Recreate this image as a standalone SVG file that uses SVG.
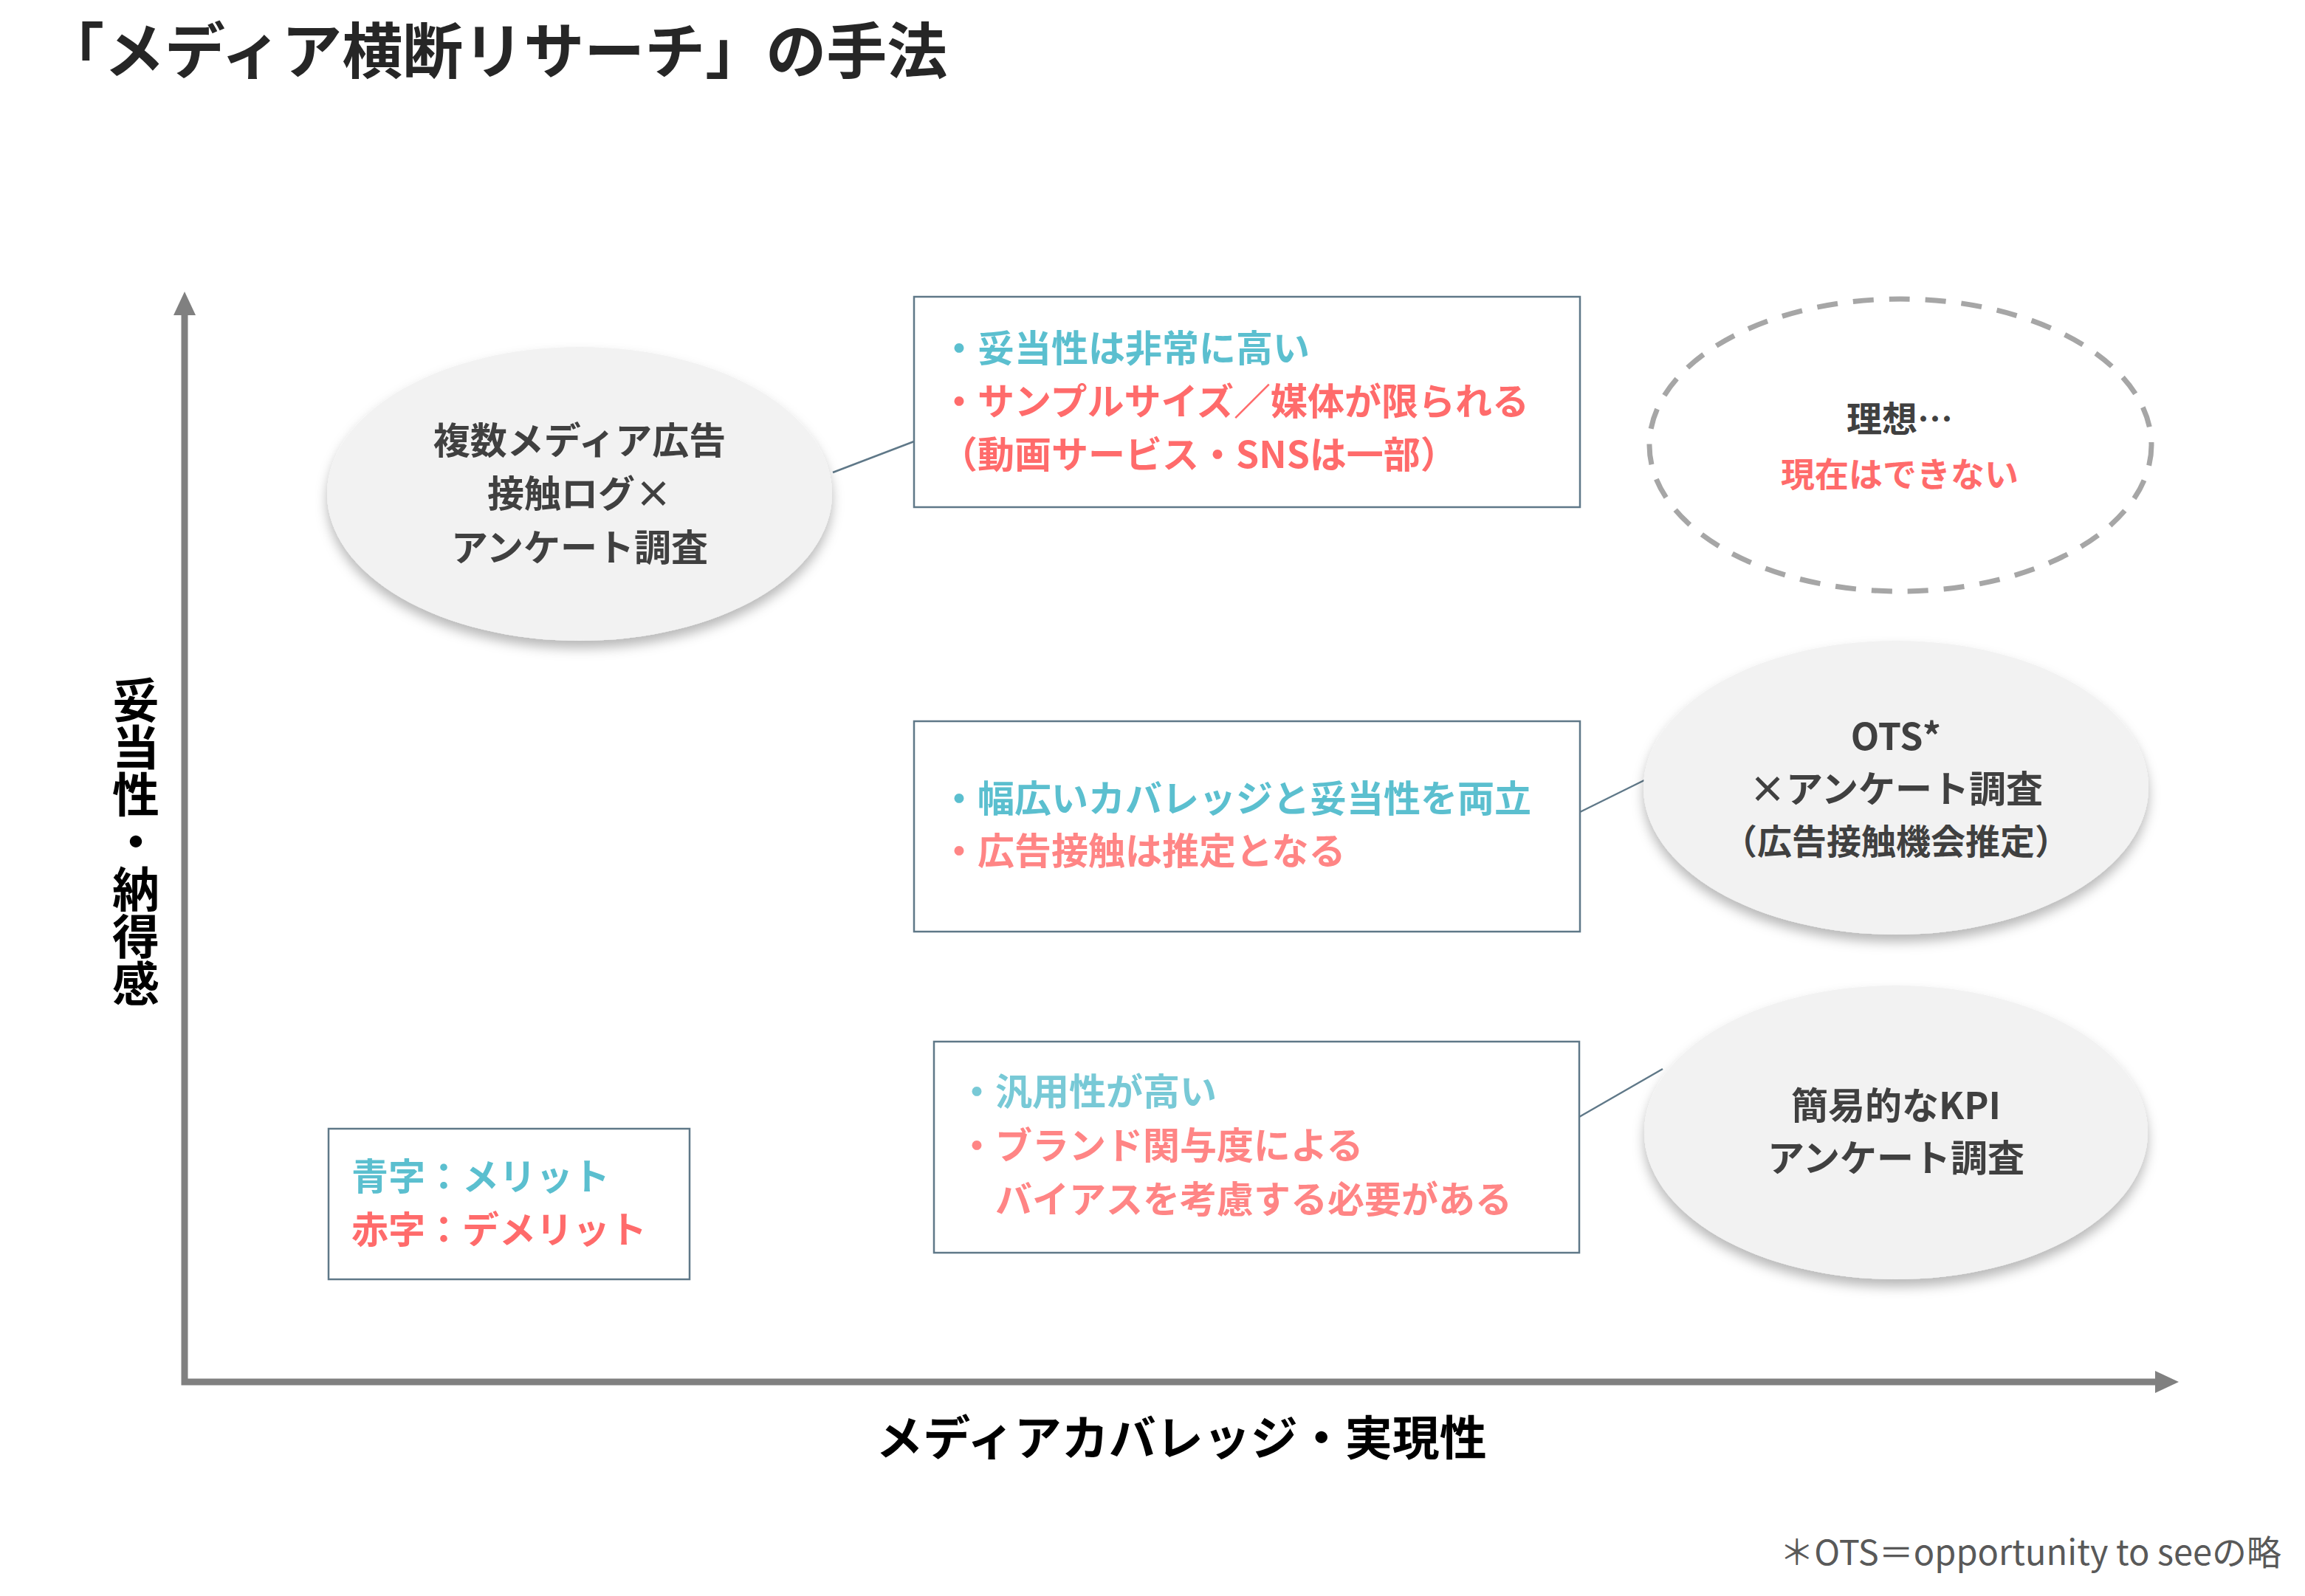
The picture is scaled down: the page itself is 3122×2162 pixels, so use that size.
<svg xmlns="http://www.w3.org/2000/svg" width="3122" height="2162" viewBox="0 0 3122 2162">
<style>
text{font-family:"Noto Sans CJK JP","Noto Sans",sans-serif;font-weight:bold}
.ttl{font-size:82px;fill:#262626}
.ax{font-size:64px;fill:#000}
.nt{font-size:50px;fill:#404040}
.bl{font-size:50px;fill:#5bbfcf}
.bl2{font-size:50px;fill:#78c9d6}
.rd{font-size:50px;fill:#ff6b6b}
.rd2{font-size:50px;fill:#ff8585}
.box{fill:#fff;stroke:#5f7888;stroke-width:2.5}
.ell{fill:#f2f2f2;filter:url(#sh)}
.con{stroke:#5f7888;stroke-width:2.5;fill:none}
.mid{text-anchor:middle}
.fn{font-size:47px;fill:#595959;font-weight:normal;text-anchor:end}
</style>
<defs>
<filter id="sh" x="-20%" y="-20%" width="140%" height="150%">
<feDropShadow dx="0" dy="10" stdDeviation="8" flood-color="#000" flood-opacity="0.28"/>
</filter>
<marker id="ah" markerUnits="userSpaceOnUse" markerWidth="32" markerHeight="30" refX="0" refY="15" orient="auto-start-reverse">
<path d="M0,0 L32,15 L0,30 z" fill="#808080"/>
</marker>
</defs>
<rect width="3122" height="2162" fill="#fff"/>
<text id="title" class="ttl" x="59" y="99">「メディア横断リサーチ」の手法</text>
<g id="axes">
<path d="M250,427 L250,1872 L2919,1872" fill="none" stroke="#808080" stroke-width="9" marker-start="url(#ah)" marker-end="url(#ah)"/>
<text id="ylabel" class="ax mid" x="184" y="1140" writing-mode="vertical-rl" style="writing-mode:vertical-rl">妥当性・納得感</text>
<text id="xlabel" class="ax mid" x="1600" y="1971">メディアカバレッジ・実現性</text>
</g>
<g id="connectors">
<line class="con" x1="1128" y1="640" x2="1238" y2="598"/>
<line class="con" x1="2140" y1="1100" x2="2227" y2="1057"/>
<line class="con" x1="2139" y1="1513" x2="2252" y2="1448"/>
</g>
<g id="node-log">
<ellipse class="ell" cx="785" cy="669" rx="342" ry="199"/>
<text class="nt mid" x="785" y="615">複数メディア広告</text>
<text class="nt mid" x="785" y="687">接触ログ×</text>
<text class="nt mid" x="785" y="760">アンケート調査</text>
</g>
<g id="box-log">
<rect class="box" x="1238" y="402" width="902" height="285"/>
<text class="bl" x="1274" y="490">・妥当性は非常に高い</text>
<text class="rd" x="1274" y="562">・サンプルサイズ／媒体が限られる</text>
<text class="rd" x="1274" y="634">（動画サービス・SNSは一部）</text>
</g>
<g id="node-ideal">
<ellipse cx="2574" cy="603" rx="340" ry="198" fill="none" stroke="#a6a6a6" stroke-width="7" stroke-dasharray="28 21"/>
<text class="mid" x="2573" y="585" style="font-size:48px;fill:#404040">理想…</text>
<text class="mid" x="2573" y="659" style="font-size:46px;fill:#ff6b6b">現在はできない</text>
</g>
<g id="box-ots">
<rect class="box" x="1238" y="977" width="902" height="285"/>
<text class="bl" x="1274" y="1100">・幅広いカバレッジと妥当性を両立</text>
<text class="rd2" x="1274" y="1171">・広告接触は推定となる</text>
</g>
<g id="node-ots">
<ellipse class="ell" cx="2568" cy="1067" rx="342" ry="199"/>
<text class="nt mid" x="2568" y="1016">OTS*</text>
<text class="nt mid" x="2568" y="1087">×アンケート調査</text>
<text class="nt mid" x="2568" y="1157" style="font-size:47px">（広告接触機会推定）</text>
</g>
<g id="box-kpi">
<rect class="box" x="1265" y="1411" width="874" height="286"/>
<text class="bl2" x="1298" y="1497">・汎用性が高い</text>
<text class="rd2" x="1298" y="1570">・ブランド関与度による</text>
<text class="rd2" x="1348" y="1643">バイアスを考慮する必要がある</text>
</g>
<g id="node-kpi">
<ellipse class="ell" cx="2568" cy="1534" rx="341" ry="199"/>
<text class="nt mid" x="2568" y="1516">簡易的なKPI</text>
<text class="nt mid" x="2568" y="1587">アンケート調査</text>
</g>
<g id="legend">
<rect class="box" x="445" y="1529" width="489" height="204"/>
<text class="bl" x="476" y="1612">青字：メリット</text>
<text class="rd" x="476" y="1684">赤字：デメリット</text>
</g>
<text id="footnote" class="fn" x="3090" y="2120">＊OTS＝opportunity to seeの略</text>
</svg>
